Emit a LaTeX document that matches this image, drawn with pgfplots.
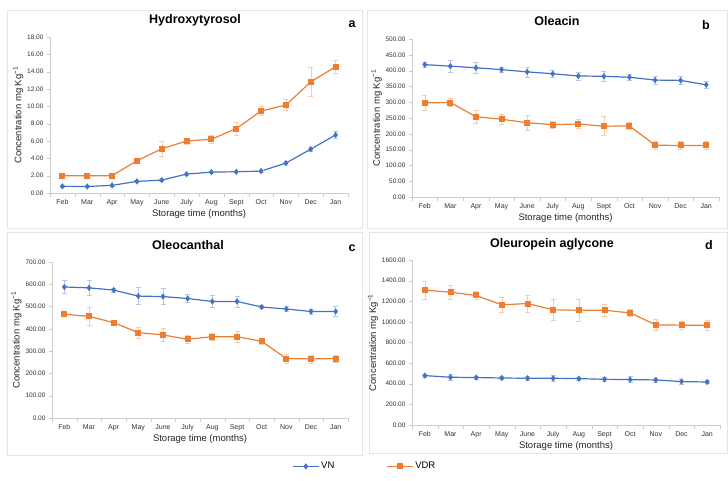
\documentclass[border=0pt]{standalone}
\usepackage{pgfplots}
\pgfplotsset{compat=1.18}
\usepackage{fontspec}
\setmainfont{Liberation Sans}
\definecolor{cvn}{HTML}{4472C4}
\definecolor{cvdr}{HTML}{ED7D31}
\pgfplotsset{
  panel/.style={
    scale only axis, anchor=south west,
    axis lines=left, axis line style={-, draw=gray!40},
    xmin=-0.5, xmax=11.5, ymin=0,
    xtick={0,...,11},
    xticklabels={Feb,Mar,Apr,May,June,July,Aug,Sept,Oct,Nov,Dec,Jan},
    major x tick style={draw=none},
    minor xtick={-0.5,0.5,...,11.5},
    minor tick length=4pt,
    minor x tick style={draw=gray!40},
    y tick style={draw=gray!40}, major tick length=3pt,
    tick align=outside,
    tick label style={font=\fontsize{6.5}{7}\selectfont, text=black!80},
    xticklabel style={font=\fontsize{7}{8}\selectfont},
    /pgf/number format/assume math mode=true,
    yticklabel style={/pgf/number format/.cd, fixed, fixed zerofill, precision=2, 1000 sep={}},
    xlabel={Storage time (months)},
    ylabel={Concentration mg Kg\textsuperscript{−1}},
    label style={font=\fontsize{9.5}{11}\selectfont, text=black!85},
    xlabel style={yshift=3pt},
    ylabel style={yshift=-3pt},
    clip=false,
  },
  serVN/.style={cvn, line width=1.2pt, mark=diamond*, mark size=2.2pt,
    mark options={solid, fill=cvn},
    error bars/.cd, y dir=both, y explicit,
    error bar style={cvn!40, line width=0.5pt},
    error mark options={rotate=90, cvn!40, mark size=2.5pt, line width=0.5pt}},
  serVDR/.style={cvdr, line width=1.2pt, mark=square*, mark size=2.4pt,
    mark options={solid, fill=cvdr},
    error bars/.cd, y dir=both, y explicit,
    error bar style={cvdr!40, line width=0.5pt},
    error mark options={rotate=90, cvdr!40, mark size=2.5pt, line width=0.5pt}},
}
\newcommand{\ttl}[3]{\node[font=\fontsize{12.5}{14}\selectfont\bfseries] at (#1pt,-#2pt) {#3};}
\begin{document}
\begin{tikzpicture}
\path (0pt,0pt) rectangle (728pt,-481pt);
\draw[gray!20, line width=0.8pt] (7pt,-10pt) rectangle (362pt,-228pt);
\draw[gray!20, line width=0.8pt] (367pt,-10pt) rectangle (727pt,-228pt);
\draw[gray!20, line width=0.8pt] (7pt,-232pt) rectangle (362pt,-455pt);
\draw[gray!20, line width=0.8pt] (369pt,-232pt) rectangle (727pt,-453pt);

% a: Hydroxytyrosol
\begin{axis}[panel, at={(50pt,-193pt)}, width=298pt, height=156pt,
  ymax=18, ytick distance=2]
\addplot[serVN] table[y error=e] {
x y e
0 0.77 0.1
1 0.75 0.1
2 0.88 0.12
3 1.34 0.15
4 1.49 0.15
5 2.18 0.15
6 2.41 0.15
7 2.45 0.1
8 2.53 0.15
9 3.45 0.15
10 5.06 0.25
11 6.70 0.4
};
\addplot[serVDR] table[y error=e] {
x y e
0 2.00 0.1
1 2.00 0.1
2 2.00 0.1
3 3.72 0.25
4 5.10 0.85
5 6.00 0.35
6 6.20 0.5
7 7.43 0.75
8 9.46 0.5
9 10.15 0.65
10 12.83 1.65
11 14.56 0.75
};
\end{axis}
\ttl{195}{20}{Hydroxytyrosol}
\ttl{352}{24}{a}

% b: Oleacin
\begin{axis}[panel, at={(412pt,-197pt)}, width=307pt, height=158pt,
  ymax=500, ytick distance=50]
\addplot[serVN] table[y error=e] {
x y e
0 419 8
1 414 19
2 409 17
3 403 8
4 396 16
5 390 12
6 383 12
7 382 16
8 379 9
9 370 12
10 369 12
11 355 12
};
\addplot[serVDR] table[y error=e] {
x y e
0 298 25
1 299 12
2 254 20
3 246 15
4 235 25
5 229 10
6 231 15
7 224 30
8 225 10
9 164 12
10 163 12
11 163 12
};
\end{axis}
\ttl{557}{21}{Oleacin}
\ttl{706}{25}{b}

% c: Oleocanthal
\begin{axis}[panel, at={(52pt,-418pt)}, width=296pt, height=156pt,
  ymax=700, ytick distance=100,
  legend style={at={(1.057,-0.31)}, anchor=center, draw=none,
    font=\fontsize{9.5}{11}\selectfont, legend columns=2,
    /tikz/every even column/.append style={column sep=50pt}},
  legend image code/.code={\draw[mark repeat=2,mark phase=2] plot coordinates {(0cm,0cm) (0.45cm,0cm) (0.9cm,0cm)};}]
\addplot[serVN] table[y error=e] {
x y e
0 588 30
1 584 35
2 574 10
3 547 38
4 545 35
5 536 18
6 523 27
7 523 25
8 498 7
9 489 12
10 478 12
11 478 22
};
\addplot[serVDR] table[y error=e] {
x y e
0 466 8
1 456 40
2 428 12
3 383 25
4 373 30
5 353 17
6 365 17
7 365 25
8 344 15
9 267 20
10 265 18
11 267 15
};
\legend{VN,VDR}
\end{axis}
\ttl{188}{245}{Oleocanthal}
\ttl{352}{248}{c}

% d: Oleuropein aglycone
\begin{axis}[panel, at={(412pt,-425pt)}, width=308pt, height=165pt,
  ymax=1600, ytick distance=200]
\addplot[serVN] table[y error=e] {
x y e
0 479 15
1 463 25
2 460 15
3 456 15
4 453 20
5 453 30
6 450 15
7 443 20
8 440 30
9 437 20
10 421 25
11 417 15
};
\addplot[serVDR] table[y error=e] {
x y e
0 1307 85
1 1288 65
2 1256 40
3 1165 75
4 1178 85
5 1117 105
6 1113 110
7 1113 60
8 1087 35
9 971 50
10 968 35
11 968 50
};
\end{axis}
\ttl{552}{244}{Oleuropein aglycone}
\ttl{709}{245}{d}
\end{tikzpicture}
\end{document}
